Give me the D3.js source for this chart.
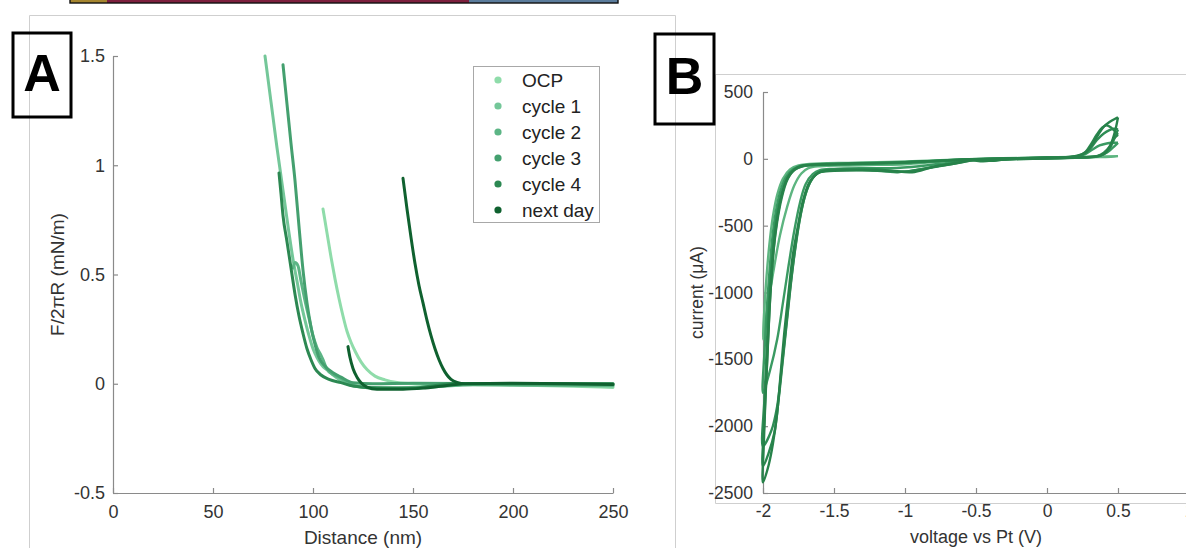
<!DOCTYPE html>
<html>
<head>
<meta charset="utf-8">
<script src="https://cdn.jsdelivr.net/npm/d3@7"></script>
<style>
  html, body { margin: 0; padding: 0; background: #ffffff; }
  svg { display: block; font-family: "Liberation Sans", Arial, sans-serif; }
</style>
</head>
<body>
<script>
// ---------- Panel A: normalised force vs distance ----------
const seriesNames = ["OCP", "cycle 1", "cycle 2", "cycle 3", "cycle 4", "next day"];
const seriesColors = ["#8fdcaa", "#74c799", "#5cb585", "#44a06f", "#2c8852", "#0f612f"];

// [distance nm, F/2πR mN/m]; null separates separate approach sweeps
const ocp = [[105,0.80],[107,0.69],[109,0.58],[111,0.48],[113,0.39],[115,0.31],[117,0.24],[119,0.19],[121,0.15],[124,0.10],[127,0.065],[131,0.035],[136,0.018],[142,0.006],[150,0.0],[170,-0.003],[200,-0.006],[230,-0.012],[250,-0.017]];
const cycle1 = [[76,1.5],[78,1.36],[80,1.22],[82,1.08],[84,0.95],[86,0.82],[88,0.69],[90,0.57],[92,0.47],[94,0.37],[96,0.29],[98,0.22],[100,0.16],[102,0.12],[104,0.09],[106,0.07],[108,0.06],[110,0.04],[113,0.02],[117,0.0],[125,-0.015],[140,-0.02],[160,-0.012],[180,-0.003],[210,-0.006],[250,-0.01]];
const cycle2 = [[90,0.53],[91,0.555],[92.5,0.54],[94,0.47],[96,0.38],[98,0.30],[100,0.22],[102,0.165],[104,0.13],[105,0.11],[107,0.065],[110,0.042],[113,0.03],[116,0.012],[120,-0.008],[130,-0.02],[145,-0.022],[160,-0.015],[180,-0.005],[250,-0.008]];
const cycle3 = [[85,1.46],[87,1.28],[89,1.10],[91,0.93],[93,0.72],[95,0.52],[97,0.37],[99,0.26],[101,0.18],[103,0.12],[106,0.08],[110,0.05],[114,0.03],[120,0.005],[130,0.0],[150,0.002],[200,0.0],[250,0.0]];
const cycle4 = [[83,0.965],[84,0.87],[85,0.77],[87,0.65],[89,0.53],[91,0.41],[93,0.31],[95,0.23],[97,0.16],[99,0.11],[101,0.07],[104,0.04],[108,0.02],[114,0.005],[120,-0.01],[135,-0.02],[150,-0.02],[160,-0.01],[170,0.0],[250,0.0]];
const nextDay = [[117.5,0.17],[118.5,0.12],[120,0.07],[122,0.03],[124,0.005],[127,-0.015],[132,-0.025],[145,-0.025],[155,-0.02],[165,-0.01],[175,0.0], null,
                 [145,0.94],[147,0.80],[149,0.67],[151,0.55],[153,0.45],[155,0.37],[157,0.29],[159,0.22],[161,0.16],[163,0.11],[165,0.07],[167,0.04],[169,0.02],[172,0.006],[176,0.0],[200,0.002],[250,-0.004]];
const forceSeries = [ocp, cycle1, cycle2, cycle3, cycle4, nextDay];

const distTicks = [0, 50, 100, 150, 200, 250];
const forceTicks = [-0.5, 0, 0.5, 1, 1.5];

// ---------- Panel B: cyclic voltammograms ----------
// [voltage vs Pt V, current µA], each loop: cathodic sweep then anodic sweep
const cv1 = [[0.5,310],[0.48,210],[0.45,110],[0.42,55],[0.38,25],[0.3,15],[0.1,8],[-0.1,0],[-0.3,-5],[-0.4,-15],[-0.5,-10],[-0.65,-35],[-0.8,-60],[-0.95,-100],[-1.1,-90],[-1.3,-85],[-1.5,-90],[-1.6,-100],[-1.64,-130],[-1.68,-190],[-1.72,-320],[-1.75,-480],[-1.79,-720],[-1.82,-1000],[-1.85,-1300],[-1.875,-1600],[-1.9,-1900],[-1.93,-2130],[-1.96,-2290],[-2.0,-2420],
             [-1.995,-2150],[-1.985,-1850],[-1.97,-1500],[-1.955,-1150],[-1.94,-880],[-1.92,-620],[-1.9,-450],[-1.87,-280],[-1.83,-150],[-1.78,-80],[-1.72,-50],[-1.6,-40],[-1.4,-35],[-1.2,-30],[-1.0,-25],[-0.8,-15],[-0.6,-5],[-0.45,0],[-0.2,5],[0.0,10],[0.15,15],[0.22,25],[0.28,55],[0.32,110],[0.36,180],[0.4,240],[0.44,275],[0.48,300],[0.5,310]];
const cv2 = [[0.5,180],[0.47,150],[0.44,90],[0.4,45],[0.35,20],[0.2,10],[0.0,5],[-0.2,0],[-0.35,-8],[-0.45,-18],[-0.55,-10],[-0.7,-40],[-0.85,-70],[-1.0,-95],[-1.2,-80],[-1.4,-80],[-1.55,-85],[-1.62,-110],[-1.66,-160],[-1.7,-260],[-1.735,-420],[-1.77,-650],[-1.8,-900],[-1.83,-1200],[-1.86,-1500],[-1.89,-1800],[-1.92,-2050],[-1.96,-2200],[-2.0,-2300],
             [-1.99,-1950],[-1.975,-1600],[-1.96,-1250],[-1.945,-950],[-1.925,-680],[-1.9,-470],[-1.87,-300],[-1.83,-160],[-1.78,-85],[-1.72,-55],[-1.6,-45],[-1.4,-40],[-1.2,-35],[-1.0,-30],[-0.8,-20],[-0.6,-8],[-0.45,-2],[-0.2,3],[0.0,8],[0.15,12],[0.22,22],[0.27,50],[0.31,110],[0.35,180],[0.39,235],[0.42,250],[0.45,235],[0.48,205],[0.5,180]];
const cv3 = [[0.5,220],[0.47,140],[0.44,75],[0.4,35],[0.34,15],[0.2,8],[0.0,3],[-0.25,-2],[-0.4,-12],[-0.5,-8],[-0.7,-45],[-0.9,-80],[-1.05,-100],[-1.25,-85],[-1.45,-80],[-1.58,-90],[-1.63,-120],[-1.67,-180],[-1.71,-300],[-1.75,-500],[-1.78,-720],[-1.81,-980],[-1.84,-1280],[-1.87,-1580],[-1.9,-1850],[-1.94,-2030],[-2.0,-2150],
             [-1.99,-1800],[-1.975,-1450],[-1.96,-1100],[-1.94,-800],[-1.92,-560],[-1.895,-380],[-1.86,-230],[-1.82,-130],[-1.77,-75],[-1.7,-50],[-1.5,-40],[-1.3,-35],[-1.1,-30],[-0.9,-22],[-0.7,-12],[-0.5,-3],[-0.3,2],[0.0,8],[0.18,14],[0.25,30],[0.3,70],[0.35,140],[0.4,190],[0.44,215],[0.47,225],[0.5,220]];
const cv4 = [[0.5,120],[0.46,80],[0.42,45],[0.37,22],[0.3,12],[0.1,6],[-0.1,2],[-0.3,-4],[-0.42,-14],[-0.52,-6],[-0.7,-30],[-0.9,-55],[-1.1,-70],[-1.3,-70],[-1.5,-75],[-1.6,-85],[-1.65,-115],[-1.7,-190],[-1.74,-330],[-1.78,-540],[-1.82,-800],[-1.86,-1080],[-1.9,-1350],[-1.95,-1580],[-2.0,-1750],
             [-1.99,-1450],[-1.975,-1150],[-1.955,-850],[-1.935,-600],[-1.91,-400],[-1.88,-250],[-1.84,-140],[-1.79,-80],[-1.73,-52],[-1.6,-42],[-1.4,-38],[-1.2,-32],[-1.0,-25],[-0.8,-15],[-0.6,-6],[-0.4,0],[-0.1,5],[0.1,10],[0.2,15],[0.27,35],[0.32,70],[0.37,100],[0.42,115],[0.46,120],[0.5,120]];
const cv5 = [[0.5,20],[0.45,15],[0.3,12],[0.1,8],[-0.1,3],[-0.3,0],[-0.45,-10],[-0.55,-5],[-0.8,-25],[-1.0,-40],[-1.2,-45],[-1.4,-50],[-1.6,-55],[-1.68,-70],[-1.73,-110],[-1.78,-200],[-1.83,-360],[-1.88,-570],[-1.92,-800],[-1.96,-1060],[-2.0,-1350],
             [-1.99,-1120],[-1.975,-880],[-1.955,-640],[-1.93,-430],[-1.9,-270],[-1.86,-150],[-1.81,-80],[-1.75,-50],[-1.6,-35],[-1.4,-30],[-1.2,-25],[-1.0,-20],[-0.8,-12],[-0.6,-4],[-0.4,2],[-0.2,6],[0.0,10],[0.2,14],[0.35,16],[0.5,20]];
const cvLoops = [cv5, cv4, cv3, cv2, cv1];
const cvColors = ["#5db580", "#3a9a62", "#2e8d55", "#2b874f", "#27824a"];

const voltTicks = [-2, -1.5, -1, -0.5, 0, 0.5, 1];
const currentTicks = [-2500, -2000, -1500, -1000, -500, 0, 500];

// ---------- drawing ----------
const W = 1186, H = 548;
const svg = d3.select("body").append("svg").attr("width", W).attr("height", H);
svg.append("rect").attr("width", W).attr("height", H).attr("fill", "#fff");

const frame = "#cfcfcf";
// strip of the figure above, and the thin panel frames
const strip = svg.append("g");
strip.append("rect").attr("x", 70).attr("y", -2).attr("width", 37).attr("height", 5).attr("fill", "#a5852f");
strip.append("rect").attr("x", 107).attr("y", -2).attr("width", 362).attr("height", 5).attr("fill", "#7d1f3d");
strip.append("rect").attr("x", 469).attr("y", -2).attr("width", 149).attr("height", 5).attr("fill", "#5b7c9c");
strip.append("rect").attr("x", 70).attr("y", -2).attr("width", 548).attr("height", 5).attr("fill", "none").attr("stroke", "#111").attr("stroke-width", 1.4);

svg.append("path").attr("d", "M29.5,548V15.5H675.5V548").attr("fill", "none").attr("stroke", frame).attr("stroke-width", 1);
svg.append("path").attr("d", "M1186,74.5H715.5V503.5H1186").attr("fill", "none").attr("stroke", frame).attr("stroke-width", 1);

const axisColor = "#8a8a8a", textColor = "#333";
function styleAxis(g, fs) {
  g.selectAll("path.domain").attr("stroke", axisColor).attr("stroke-width", 1.2);
  g.selectAll(".tick line").attr("stroke", axisColor).attr("stroke-width", 1.2);
  g.selectAll(".tick text").attr("fill", textColor).style("font-size", fs + "px")
    .style("font-family", '"Liberation Sans", Arial, sans-serif');
}

// Panel A
const xA = d3.scaleLinear().domain([0, 250]).range([113, 613]);
const yA = d3.scaleLinear().domain([-0.5, 1.5]).range([493, 56]);

const gA = svg.append("g");
const axA_x = gA.append("g").attr("transform", `translate(0,${yA(-0.5)})`)
  .call(d3.axisBottom(xA).tickValues(distTicks).tickFormat(d => String(d)).tickSizeInner(-5).tickSizeOuter(0).tickPadding(12));
styleAxis(axA_x, 18);
const axA_y = gA.append("g").attr("transform", `translate(${xA(0)},0)`)
  .call(d3.axisLeft(yA).tickValues(forceTicks).tickFormat(d => String(d)).tickSizeInner(-5).tickSizeOuter(0).tickPadding(8));
styleAxis(axA_y, 18);

const lineA = d3.line().defined(d => d !== null).x(d => xA(d[0])).y(d => yA(d[1])).curve(d3.curveMonotoneX);
gA.append("g").selectAll("path").data(forceSeries).join("path")
  .attr("d", d => lineA(d))
  .attr("fill", "none")
  .attr("stroke", (d, i) => seriesColors[i])
  .attr("stroke-width", 3)
  .attr("stroke-linejoin", "round")
  .attr("stroke-linecap", "round");

gA.append("text").attr("x", xA(125)).attr("y", 544).attr("text-anchor", "middle")
  .attr("fill", textColor).style("font-size", "19px").text("Distance (nm)");
gA.append("text").attr("transform", `translate(64,${yA(0.5)}) rotate(-90)`).attr("text-anchor", "middle")
  .attr("fill", textColor).style("font-size", "19px").text("F/2πR (mN/m)");

// legend
const leg = gA.append("g");
leg.append("rect").attr("x", 473.5).attr("y", 66.5).attr("width", 126).attr("height", 156)
  .attr("fill", "#fff").attr("stroke", "#a8a8a8").attr("stroke-width", 1);
seriesNames.forEach((name, i) => {
  const cy = 80 + i * 26;
  leg.append("circle").attr("cx", 498).attr("cy", cy).attr("r", 3.6).attr("fill", seriesColors[i]);
  leg.append("text").attr("x", 522).attr("y", cy).attr("dy", "0.35em").attr("fill", "#222")
    .style("font-size", "19px").text(name);
});

// panel tag A
svg.append("rect").attr("x", 13).attr("y", 33).attr("width", 58).attr("height", 84)
  .attr("fill", "none").attr("stroke", "#000").attr("stroke-width", 3);
svg.append("text").attr("x", 42).attr("y", 91).attr("text-anchor", "middle")
  .style("font-size", "52px").style("font-weight", "bold").attr("fill", "#000").text("A");

// Panel B
const xB = d3.scaleLinear().domain([-2, 1]).range([763, 1189]);
const yB = d3.scaleLinear().domain([-2500, 500]).range([493, 92]);

const gB = svg.append("g");
const axB_x = gB.append("g").attr("transform", `translate(0,${yB(-2500)})`)
  .call(d3.axisBottom(xB).tickValues(voltTicks).tickFormat(d => String(d)).tickSizeInner(-5).tickSizeOuter(0).tickPadding(12));
styleAxis(axB_x, 17.5);
const axB_y = gB.append("g").attr("transform", `translate(${xB(-2)},0)`)
  .call(d3.axisLeft(yB).tickValues(currentTicks).tickFormat(d => String(d)).tickSizeInner(-5).tickSizeOuter(0).tickPadding(10));
styleAxis(axB_y, 17.5);

const lineB = d3.line().x(d => xB(d[0])).y(d => yB(d[1])).curve(d3.curveCatmullRom.alpha(0.5));
gB.append("g").selectAll("path").data(cvLoops).join("path")
  .attr("d", d => lineB(d))
  .attr("fill", "none")
  .attr("stroke", (d, i) => cvColors[i])
  .attr("stroke-width", 2.4)
  .attr("stroke-linejoin", "round");

gB.append("text").attr("x", xB(-0.5)).attr("y", 543).attr("text-anchor", "middle")
  .attr("fill", textColor).style("font-size", "18px").text("voltage vs Pt (V)");
gB.append("text").attr("transform", `translate(703,${yB(-1000)}) rotate(-90)`).attr("text-anchor", "middle")
  .attr("fill", textColor).style("font-size", "17.5px").text("current (μA)");

// panel tag B
svg.append("rect").attr("x", 655).attr("y", 34).attr("width", 59).attr("height", 90)
  .attr("fill", "none").attr("stroke", "#000").attr("stroke-width", 3);
svg.append("text").attr("x", 684.5).attr("y", 94).attr("text-anchor", "middle")
  .style("font-size", "52px").style("font-weight", "bold").attr("fill", "#000").text("B");
</script>
</body>
</html>
